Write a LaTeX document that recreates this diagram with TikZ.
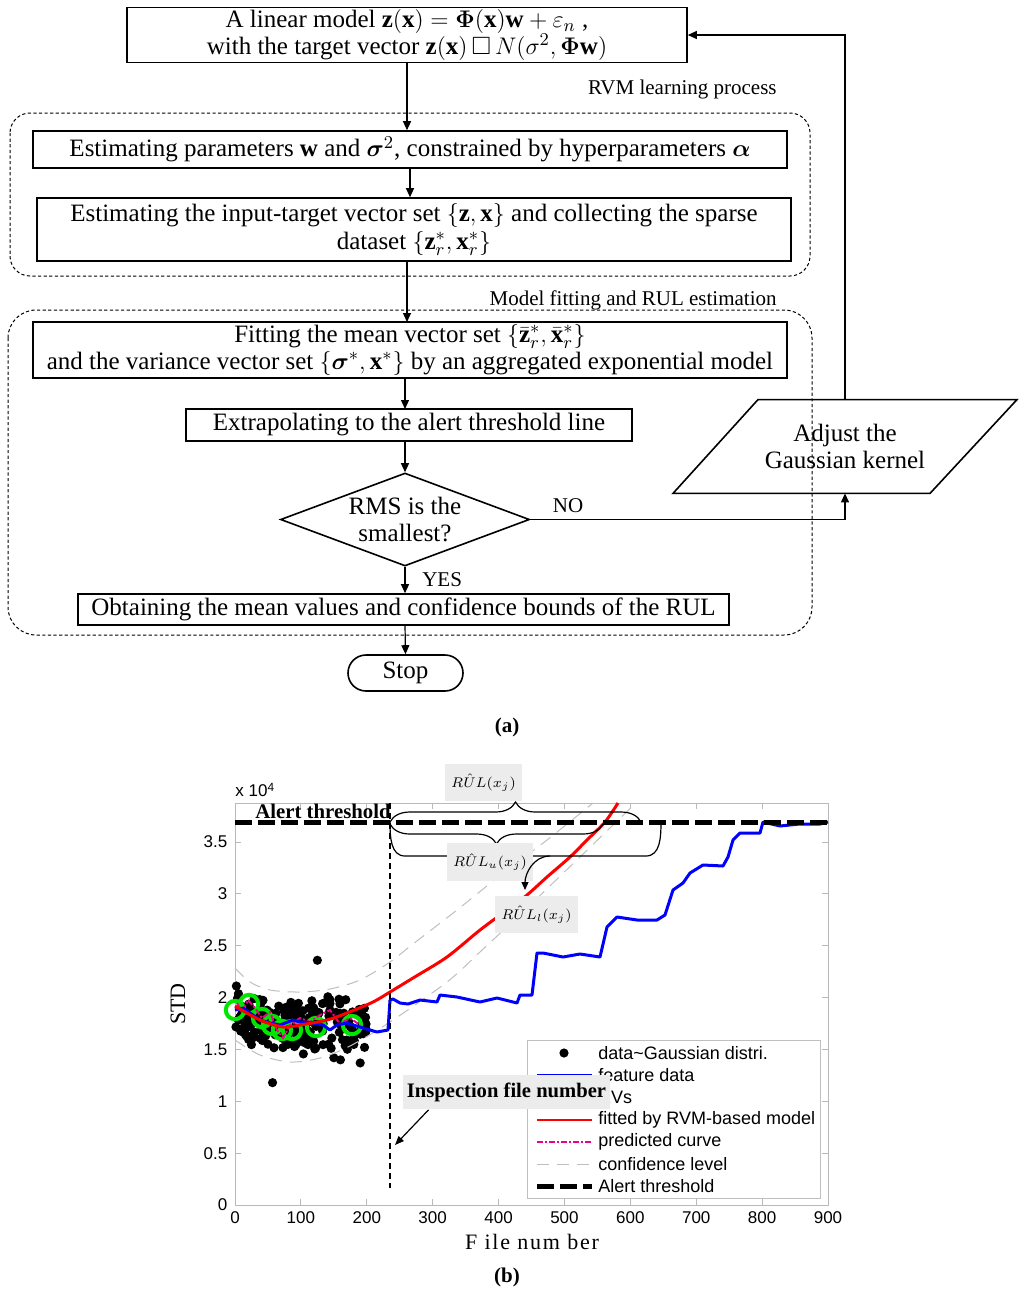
\documentclass[tikz,border=0pt]{standalone}
\usepackage{amsmath,amssymb,bm}
\usepackage{fontspec}
\setmainfont{Liberation Serif}
\setsansfont{Liberation Sans}
\usetikzlibrary{arrows.meta}
\usetikzlibrary{shapes.geometric}
\usetikzlibrary{decorations.pathreplacing}
\definecolor{rvgreen}{RGB}{0,230,0}
\definecolor{labelgray}{RGB}{236,236,236}
\definecolor{axisgray}{RGB}{185,185,185}
\newcommand{\flowfont}{\fontsize{12.5}{13.6}\selectfont}
\tikzstyle{flowbox}=[draw,line width=0.8pt,align=center,inner sep=1pt,font=\flowfont]
\tikzstyle{flowline}=[line width=0.6pt,-{Triangle[length=4.5pt,width=4pt]}]
\tikzstyle{flowlabel}=[font=\fontsize{10.5}{12}\selectfont]
\tikzstyle{groupbox}=[dash pattern=on 1.6pt off 1.2pt,line width=0.5pt]
\tikzstyle{grouplabel}=[font=\fontsize{10.5}{12}\selectfont,inner sep=0pt]
\tikzstyle{axisline}=[draw=axisgray,line width=0.5pt]
\tikzstyle{ticklabel}=[font=\sffamily\fontsize{8.5}{10}\selectfont,inner sep=1pt]
\tikzstyle{legendtext}=[font=\sffamily\fontsize{9}{10}\selectfont,anchor=west,inner sep=0pt]
\tikzstyle{rullabel}=[fill=labelgray,inner xsep=3pt,inner ysep=5pt,font=\fontsize{7.5}{9}\selectfont]
\tikzstyle{rulbrace}=[decorate,decoration={brace,amplitude=10pt},line width=0.6pt]
\tikzstyle{confline}=[black!25,line width=0.5pt,dash pattern=on 6pt off 4pt]
\newcommand{\rvcircle}[1]{\draw[rvgreen,line width=2pt] #1 circle (4.6pt);}

\begin{document}
\begin{tikzpicture}[x=0.5pt,y=-0.5pt]
\useasboundingbox (0,0) rectangle (1024,1297);

%% ---------------- (a) flowchart
\draw[groupbox,rounded corners=10pt] (10,113) rectangle (810,276);
\draw[groupbox,rounded corners=14pt] (8,310) rectangle (812,635);
\node[grouplabel,anchor=east] (rvmlab) at (777,89) {RVM learning process};
\node[grouplabel,anchor=east] (fitlab) at (777,300) {Model fitting and RUL estimation};

\node[flowbox,minimum width=280pt,minimum height=27pt] (lin) at (407,35)
  {A linear model $\mathbf{z}(\mathbf{x})=\bm{\Phi}(\mathbf{x})\mathbf{w}+\varepsilon_n$ ,\\
   with the target vector $\mathbf{z}(\mathbf{x})\,\square\,N(\sigma^2,\bm{\Phi}\mathbf{w})$};
\node[flowbox,minimum width=377pt,minimum height=18.5pt] (est) at (410,149.5)
  {Estimating parameters $\mathbf{w}$ and $\bm{\sigma}^2$, constrained by hyperparameters $\bm{\alpha}$};
\node[flowbox,minimum width=377pt,minimum height=31.5pt] (sparse) at (414,229.5)
  {Estimating the input-target vector set $\{\mathbf{z},\mathbf{x}\}$ and collecting the sparse\\
   dataset $\{\mathbf{z}_r^*,\mathbf{x}_r^*\}$};
\node[flowbox,minimum width=377pt,minimum height=28pt] (fit) at (410,350)
  {Fitting the mean vector set $\{\bar{\mathbf{z}}_r^*,\bar{\mathbf{x}}_r^*\}$\\
   and the variance vector set $\{\bm{\sigma}^*,\mathbf{x}^*\}$ by an aggregated exponential model};
\node[flowbox,minimum width=223pt,minimum height=16pt] (extra) at (409,425)
  {Extrapolating to the alert threshold line};
\node[flowbox,diamond,aspect=2.68,minimum width=124.5pt,minimum height=46.5pt,inner sep=0pt] (rms) at (405,519.5)
  {RMS is the\\ smallest?};
\node[flowbox,minimum width=325.5pt,minimum height=15.5pt] (bounds) at (403.5,609.5)
  {Obtaining the mean values and confidence bounds of the RUL};
\node[flowbox,rounded corners=9pt,minimum width=57.5pt,minimum height=18pt] (stop) at (405.5,673) {Stop};
% parallelogram, text node plus its outline
\node[font=\flowfont,align=center,minimum width=90pt,minimum height=46.5pt,inner sep=0pt] (adjust) at (845,446.5)
  {Adjust the\\ Gaussian kernel};
\draw[line width=0.8pt] ([xshift=-86pt]adjust.south) -- ([xshift=-43.5pt]adjust.north)
  -- ([xshift=86pt]adjust.north) -- ([xshift=42.5pt]adjust.south) -- cycle;

\draw[flowline] (lin.south) -- (lin.south |- est.north);
\draw[flowline] (est.south) -- (est.south |- sparse.north);
\draw[flowline] (407,261) -- (407,322); % sparse -> fit
\draw[flowline] (405,378) -- (405,409); % fit -> extra
\draw[flowline] (405,441) -- (rms.north);
\draw[flowline] (rms.south) -- (rms.south |- bounds.north) node[midway,right=5pt,flowlabel] {YES};
\draw[flowline] (405,625) -- (stop.north);
\draw[flowline] (rms.east) -| (adjust.south) node[pos=0.06,above,flowlabel] {NO};
\draw[flowline] (adjust.north) |- (lin.east);

\node[font=\bfseries\fontsize{10.5}{12}\selectfont] (capa) at (507,727) {(a)};

%% ---------------- (b) degradation plot
\begin{scope}[shift={(235,1205)},x=0.32945pt,y=51.85pt]
  \draw[axisline,fill=white] (0,0) rectangle (900,3.876);
  \foreach \k in {0,100,...,900} {
    \draw[axisline] (\k,0) -- ++(0,0.058);
    \draw[axisline] (\k,3.876) -- ++(0,-0.058);
    \node[ticklabel,anchor=north] at (\k,-0.04) {\k};
  }
  \foreach \v in {0,0.5,1,1.5,2,2.5,3,3.5} {
    \draw[axisline] (0,\v) -- ++(9,0);
    \draw[axisline] (900,\v) -- ++(-9,0);
    \node[ticklabel,anchor=east] at (-8,\v) {\v};
  }
  % scattered STD values
  \pgfmathsetseed{42}
  \foreach \i in {1,...,210} {
    \pgfmathsetmacro{\fx}{200*rnd}
    \pgfmathsetmacro{\fy}{1.72+0.13*exp(-\fx/25)+0.0002*\fx+0.15*(rand+rand)}
    \fill (\fx,\fy) circle (2.3pt);
  }
  \foreach \ox/\oy in {125/2.36,57/1.18,190/1.37,150/1.42,160/1.40} {
    \fill (\ox,\oy) circle (2.3pt);
  }
\end{scope}

% confidence bounds
\draw[confline] plot[smooth] coordinates {(235,968) (250,982) (270,990) (300,992) (330,989) (360,980) (390,962)
  (413,944) (457,910) (497,878) (547,840) (593,803)};
\draw[confline] plot[smooth] coordinates {(235,1040) (260,1055) (290,1062) (320,1058) (350,1046) (390,1022)
  (447,982) (480,952) (530,905) (580,857) (612,826) (636,803)};

% relevance vectors
\foreach \p in {(235,1010),(249,1004),(262,1018),(272,1025),(282,1030),(292,1030),(316,1027),(352,1025)} {
  \rvcircle{\p}
}
% predicted curve
\draw[magenta,line width=1pt,dash pattern=on 3pt off 1pt on 1pt off 1pt] (237,1003) -- (242,1012) -- (248,1000)
  -- (255,1008) -- (262,1018) -- (270,1012) -- (277,1030) -- (283,1038) -- (290,1025) -- (300,1018)
  -- (310,1022) -- (320,1015) -- (330,1010) -- (340,1024) -- (350,1018) -- (360,1025);
% feature data
\draw[blue,line width=1.5pt,line join=round] (235,1010) -- (243,1008) -- (250,1013) -- (260,1020) -- (270,1023)
  -- (280,1025) -- (293,1020) -- (300,1022) -- (313,1023) -- (323,1025) -- (330,1030) -- (337,1025)
  -- (347,1023) -- (360,1027) -- (370,1030) -- (377,1032) -- (388,1030) -- (390,1000) -- (393,999)
  -- (400,1003) -- (408,1004) -- (420,1000) -- (437,1002) -- (440,995) -- (457,997) -- (480,1002)
  -- (497,998) -- (517,1003) -- (520,995) -- (532,995) -- (537,953) -- (543,953) -- (563,957)
  -- (580,954) -- (600,957) -- (607,927) -- (617,917) -- (637,920) -- (657,920) -- (665,915)
  -- (673,890) -- (683,883) -- (690,873) -- (703,865) -- (723,866) -- (728,857) -- (733,840)
  -- (740,833) -- (760,833) -- (763,822) -- (780,826) -- (800,824) -- (820,824) -- (828,822);
% fitted curve
\draw[red,line width=1.5pt] plot[smooth] coordinates {(235,1006) (260,1020) (283,1027) (300,1025) (327,1020)
  (347,1013) (373,1002) (390,992) (413,978) (447,957) (480,930) (507,910) (527,895) (547,877)
  (570,857) (587,840) (605,822) (618,803)};

% alert threshold and inspection line
\draw[line width=2.5pt,dash pattern=on 8.5pt off 3pt] (235,822) -- (830,822);
\node[font=\bfseries\fontsize{10.4}{12}\selectfont,inner sep=0pt] (alert) at (323,811) {Alert threshold};
\draw[line width=0.7pt,dash pattern=on 3pt off 2pt] (390,803) -- (390,1188);

% RUL braces
\draw[rulbrace] (390,822) -- (641,822);
\draw[rulbrace] (603,824) -- (390,824);
\draw[line width=0.6pt] (390,822) to[out=-90,in=180] (405,856) -- (646,856) to[out=0,in=-90] (661,822);
\node[rullabel] (rul) at (483.5,782.5) {$R\hat{U}L(x_j)$};
\node[rullabel] (rulu) at (490,862) {$R\hat{U}L_u(x_j)$};
\node[rullabel] (rull) at (536.5,914.5) {$R\hat{U}L_l(x_j)$};
\coordinate (rultip) at (525,890);
\draw[line width=0.6pt,-{Triangle[length=4pt,width=3.5pt]}] (550,856) to[out=180,in=90] (rultip);

% legend
\node[draw=black!25,fill=white,line width=0.5pt,minimum width=146.5pt,minimum height=79pt,inner sep=0pt] (legend) at (673.5,1119) {};
\fill (564,1053) circle (2.3pt);
\node[legendtext] (lg1) at (598,1053) {data\textasciitilde Gaussian distri.};
\draw[blue,line width=1pt] (537,1075) -- (592,1075);
\node[legendtext] (lg2) at (598,1075) {feature data};
\rvcircle{(564,1097)}
\node[legendtext] (lg3) at (598,1097) {RVs};
\draw[red,line width=1pt] (537,1120) -- (592,1120);
\node[legendtext] (lg4) at (598,1120) {fitted by RVM-based model};
\draw[magenta,line width=1pt,dash pattern=on 3pt off 1pt on 1pt off 1pt] (537,1142) -- (592,1142);
\node[legendtext] (lg5) at (598,1142) {predicted curve};
\draw[confline] (537,1164) -- (592,1164);
\node[legendtext] (lg6) at (598,1164) {confidence level};
\draw[line width=2.5pt,dash pattern=on 8.5pt off 3pt] (537,1186) -- (592,1186);
\node[legendtext] (lg7) at (598,1186) {Alert threshold};

% inspection label
\node[fill=labelgray,inner xsep=2pt,inner ysep=4pt,font=\bfseries\fontsize{10.3}{12}\selectfont] (insp) at (506.5,1092) {Inspection file number};
\coordinate (insptip) at (395,1145);
\draw[line width=0.6pt,-{Triangle[length=4.5pt,width=3.5pt]}] ([xshift=13pt]insp.south west) -- (insptip);

% axis texts
\node[ticklabel,anchor=west] (xten) at (233,790) {x 10\textsuperscript{4}};
\node[rotate=90,font=\fontsize{11}{12}\selectfont] (ylab) at (178,1004) {STD};
\node[font=\fontsize{11}{12}\selectfont\addfontfeature{LetterSpace=8}] (xlab) at (532,1242) {F ile num ber};
\node[font=\bfseries\fontsize{10.5}{12}\selectfont] (capb) at (507,1277) {(b)};
\end{tikzpicture}
\end{document}
